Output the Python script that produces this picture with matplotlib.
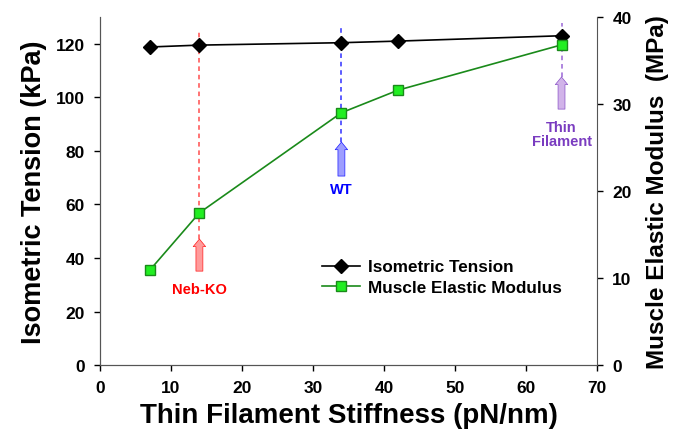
import matplotlib
matplotlib.use("Agg")
import matplotlib.pyplot as plt

plt.rcParams['font.family'] = ['Liberation Sans', 'DejaVu Sans']
plt.rcParams['font.weight'] = 'bold'

stiffness = [7, 14, 34, 42, 65]
tension = [118.8, 119.5, 120.4, 121, 123]
modulus = [10.9, 17.5, 29.0, 31.6, 36.8]

# markers for the three cases: x, label, fill, edge, dash colour, arrow tip, arrow tail, label y, dash top
cases = [
    (14, "Neb-KO", "#ff8a8a", "red", "#ff4d4d", 47.1, 35.1, 28.4, 125.5),
    (34, "WT", "#8c8cff", "blue", "#3030ff", 83.3, 70.6, 65.7, 126.3),
    (65, "Thin\nFilament", "#c9a6e6", "#7a3cc0", "#9a66d6", 107.6, 95.6, 86.3, 127.8),
]

fig = plt.figure(figsize=(6.73, 4.39), dpi=100)
ax = fig.add_axes([0.1486, 0.166, 0.7385, 0.793])
ax2 = ax.twinx()

for x, name, fc, ec, dc, tip, tail, ly, top in cases:
    ax.plot([x, x], [tip, top], ls=(0, (3, 2.5)), color=dc, lw=1.1, zorder=1)
    ax.annotate("", xy=(x, tip), xytext=(x, tail),
                arrowprops=dict(arrowstyle="simple,head_width=0.9,head_length=0.55,tail_width=0.5",
                                fc=fc, ec=ec, lw=0.5, alpha=0.85,
                                shrinkA=0, shrinkB=0))
    ax.text(x, ly, name, color=ec, ha='center', va='center', fontsize=10.5,
            fontweight='bold', linespacing=1.0)

l1, = ax.plot(stiffness, tension, color='black', marker='D', ms=7, lw=1.2,
              label='Isometric Tension', zorder=3)
l2, = ax2.plot(stiffness, modulus, color='#1a8a1a', marker='s', ms=6.5, lw=1.2,
               mfc='#22ee22', mec='#1a8a1a', label='Muscle Elastic Modulus', zorder=3)

ax.set_xlim(0, 70)
ax.set_ylim(0, 130)
ax2.set_ylim(0, 40)
ax.set_xticks(range(0, 71, 10))
ax.set_yticks(range(0, 121, 20))
ax2.set_yticks(range(0, 41, 10))

for a in (ax, ax2):
    a.spines['top'].set_visible(False)
    a.tick_params(labelsize=12.5, width=1, length=4, direction='out')
    for lab in a.get_xticklabels() + a.get_yticklabels():
        lab.set_fontweight('bold')
    for s in a.spines.values():
        s.set_color('#555555')
ax.tick_params(axis='x', pad=7)
ax.tick_params(axis='y', pad=7)
ax2.tick_params(axis='y', pad=7)
ax.spines['right'].set_visible(False)

ax.set_xlabel("Thin Filament Stiffness (pN/nm)", fontsize=20, fontweight='bold', labelpad=5)
ax.set_ylabel("Isometric Tension (kPa)", fontsize=19.5, fontweight='bold', labelpad=6)
ax2.set_ylabel("Muscle Elastic Modulus  (MPa)", fontsize=17.5, fontweight='bold', labelpad=10)

ax.legend(handles=[l1, l2], loc='center left', bbox_to_anchor=(0.447, 0.253),
          frameon=False, handlelength=2.2, handletextpad=0.5, labelspacing=0.3,
          borderpad=0, borderaxespad=0, prop={'weight': 'bold', 'size': 12.3})

fig.savefig("out.png", dpi=100)
